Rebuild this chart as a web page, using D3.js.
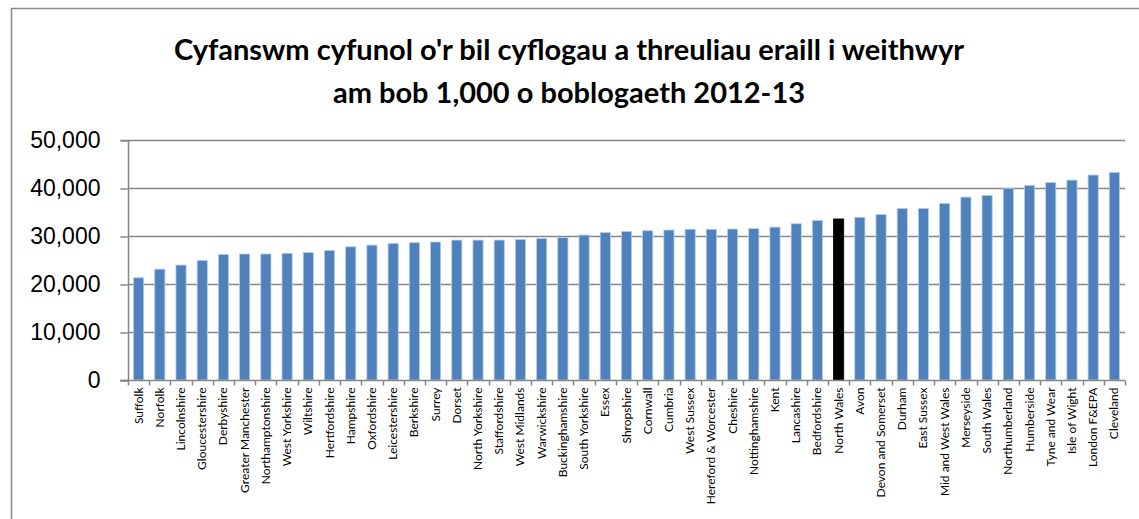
<!DOCTYPE html>
<html>
<head>
<meta charset="utf-8">
<script src="https://cdn.jsdelivr.net/npm/d3@7"></script>
<style>
  html, body { margin: 0; padding: 0; background: #fff; }
  svg { display: block; font-family: Lato, "Open Sans", sans-serif; }
</style>
</head>
<body>
<svg id="chart"></svg>
<script>
const WIDTH = 1139;
const HEIGHT = 519;

const titleLines = [
  "Cyfanswm cyfunol o'r bil cyflogau a threuliau eraill i weithwyr",
  "am bob 1,000 o boblogaeth 2012-13"
];

const categories = [
  "Suffolk", "Norfolk", "Lincolnshire", "Gloucestershire", "Derbyshire",
  "Greater Manchester", "Northamptonshire", "West Yorkshire", "Wiltshire",
  "Hertfordshire", "Hampshire", "Oxfordshire", "Leicestershire", "Berkshire",
  "Surrey", "Dorset", "North Yorkshire", "Staffordshire", "West Midlands",
  "Warwickshire", "Buckinghamshire", "South Yorkshire", "Essex", "Shropshire",
  "Cornwall", "Cumbria", "West Sussex", "Hereford & Worcester", "Cheshire",
  "Nottinghamshire", "Kent", "Lancashire", "Bedfordshire", "North Wales",
  "Avon", "Devon and Somerset", "Durham", "East Sussex", "Mid and West Wales",
  "Merseyside", "South Wales", "Northumberland", "Humberside", "Tyne and Wear",
  "Isle of Wight", "London F&EPA", "Cleveland"
];

const values = [
  21300, 23100, 23950, 24900, 26150,
  26250, 26250, 26400, 26550, 27000,
  27750, 28100, 28450, 28600, 28750,
  29150, 29150, 29150, 29300, 29450,
  29650, 30200, 30700, 30950, 31100,
  31250, 31400, 31400, 31450, 31550,
  31850, 32550, 33250, 33550, 33900,
  34500, 35750, 35750, 36800, 38100,
  38450, 39950, 40550, 41150, 41650,
  42700, 43250
];

const highlighted = ["North Wales"];
const yTicks = [0, 10000, 20000, 30000, 40000, 50000];

const margin = { left: 128, right: 14, top: 140, bottom: 139 };

const svg = d3.select("#chart")
  .attr("width", WIDTH)
  .attr("height", HEIGHT);

// chart frame (runs off the right and bottom edge like the source)
svg.append("rect")
  .attr("x", 11.5)
  .attr("y", 8.5)
  .attr("width", 1200)
  .attr("height", 600)
  .attr("fill", "#fff")
  .attr("stroke", "#8c8c8c")
  .attr("stroke-width", 1.5);

svg.append("text")
  .attr("x", 569)
  .attr("text-anchor", "middle")
  .style("font-size", "29px")
  .style("font-weight", "bold")
  .attr("fill", "#000")
  .selectAll("tspan")
  .data(titleLines)
  .enter()
  .append("tspan")
  .attr("x", 569)
  .attr("y", (d, i) => 60 + i * 43)
  .text((d) => d);

const x = d3.scaleBand()
  .domain(categories)
  .range([margin.left, WIDTH - margin.right])
  .paddingInner(0.52)
  .paddingOuter(0.26);

const y = d3.scaleLinear()
  .domain([0, 50000])
  .range([HEIGHT - margin.bottom, margin.top]);

// gridlines
svg.append("g")
  .selectAll("line")
  .data(yTicks.filter((t) => t > 0))
  .enter()
  .append("line")
  .attr("x1", margin.left)
  .attr("x2", WIDTH - margin.right)
  .attr("y1", (d) => Math.round(y(d)) + 0.5)
  .attr("y2", (d) => Math.round(y(d)) + 0.5)
  .attr("stroke", "#868686")
  .attr("stroke-width", 1.5);

// bars
svg.append("g")
  .selectAll("rect")
  .data(categories)
  .enter()
  .append("rect")
  .attr("x", (d) => x(d))
  .attr("y", (d, i) => y(values[i]))
  .attr("width", x.bandwidth())
  .attr("height", (d, i) => y(0) - y(values[i]))
  .attr("fill", (d) => highlighted.includes(d) ? "#000" : "#4f81bd")
  .attr("stroke", (d) => highlighted.includes(d) ? "#000" : "#b9cde5")
  .attr("stroke-width", 0.8);

// y axis
const yAxis = d3.axisLeft(y)
  .tickValues(yTicks)
  .tickSize(8)
  .tickPadding(20)
  .tickFormat(d3.format(","));

const gy = svg.append("g")
  .attr("transform", `translate(${margin.left + 0.5}, 0.5)`)
  .call(yAxis);
gy.select(".domain").attr("stroke", "#868686").attr("stroke-width", 1.5);
gy.selectAll(".tick line").attr("stroke", "#868686").attr("stroke-width", 1.5);
gy.selectAll(".tick text")
  .style("font-size", "23px")
  .attr("fill", "#000");
gy.select(".domain").attr("d", `M-8,${y(50000)}H0V${y(0)}H-8`);

// x axis: ticks sit on category boundaries
const gx = svg.append("g")
  .attr("transform", `translate(0, ${y(0) + 0.5})`);

gx.append("line")
  .attr("x1", margin.left - 8)
  .attr("x2", WIDTH - margin.right)
  .attr("stroke", "#868686")
  .attr("stroke-width", 1.5);

const step = x.step();
const boundaries = d3.range(categories.length + 1)
  .map((i) => margin.left + x.paddingOuter() * step - x.paddingInner() * step / 2 + i * step);

gx.selectAll(".xtick")
  .data(boundaries)
  .enter()
  .append("line")
  .attr("class", "xtick")
  .attr("x1", (d) => Math.round(d) + 0.5)
  .attr("x2", (d) => Math.round(d) + 0.5)
  .attr("y1", 0)
  .attr("y2", 5)
  .attr("stroke", "#868686")
  .attr("stroke-width", 1.5);

gx.selectAll(".xlabel")
  .data(categories)
  .enter()
  .append("text")
  .attr("class", "xlabel")
  .attr("transform", (d) => `translate(${x(d) + x.bandwidth() / 2 + 4}, 7) rotate(-90)`)
  .attr("text-anchor", "end")
  .style("font-size", "12px")
  .attr("fill", "#000")
  .text((d) => d);
</script>
</body>
</html>
